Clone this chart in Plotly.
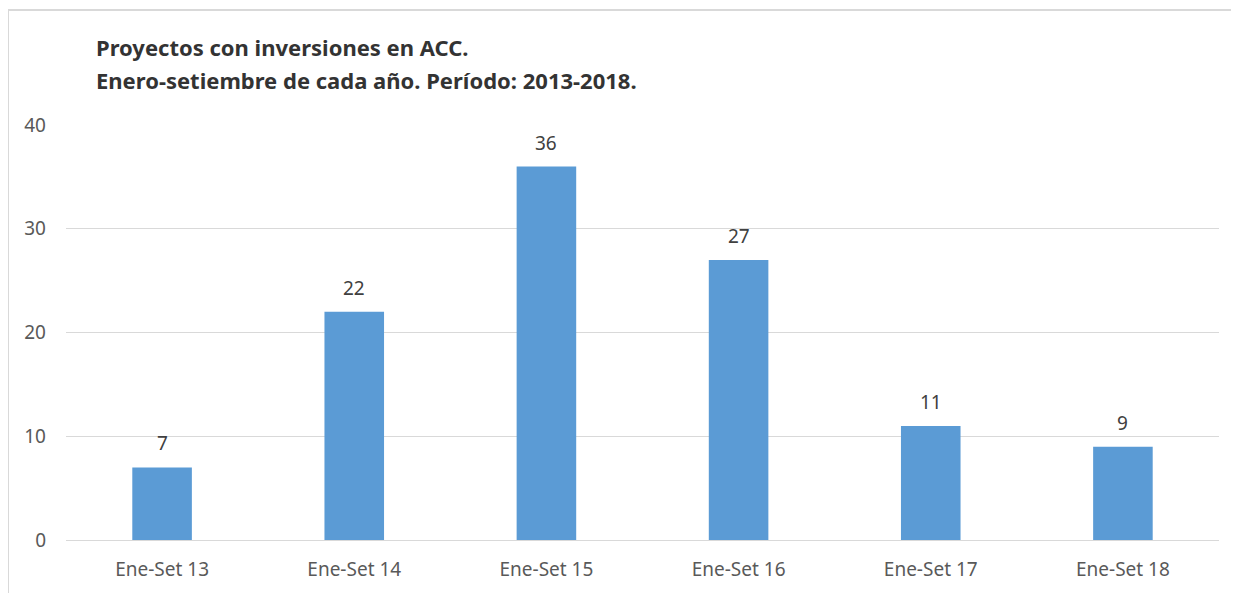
import plotly.graph_objects as go

# Datos
periodos = ['Ene-Set 13', 'Ene-Set 14', 'Ene-Set 15', 'Ene-Set 16', 'Ene-Set 17', 'Ene-Set 18']
proyectos = [7, 22, 36, 27, 11, 9]
y_ticks = [0, 10, 20, 30, 40]

titulo_1 = 'Proyectos con inversiones en ACC.'
titulo_2 = 'Enero-setiembre de cada año. Período: 2013-2018.'

fig = go.Figure()
fig.add_trace(go.Bar(x=periodos, y=proyectos, marker_color='#5B9BD5',
                     marker_line_width=0, hoverinfo='x+y'))

# etiquetas de valores encima de las barras
for p, v in zip(periodos, proyectos):
    fig.add_annotation(x=p, y=v, text=str(v), showarrow=False, yanchor='bottom',
                       yshift=9, font=dict(family='Noto Sans', size=19, color='#404040'))

# título en dos líneas
fig.add_annotation(xref='paper', yref='paper', x=(94 - 66) / 1153, y=(540 - 47) / 415,
                   xanchor='left', yanchor='middle', text='<b>' + titulo_1 + '</b>', showarrow=False,
                   font=dict(family='Noto Sans', size=22, color='#333333'))
fig.add_annotation(xref='paper', yref='paper', x=(94 - 66) / 1153, y=(540 - 80) / 415,
                   xanchor='left', yanchor='middle', text='<b>' + titulo_2 + '</b>', showarrow=False,
                   font=dict(family='Noto Sans', size=22, color='#333333'))

# borde del gráfico
borde = dict(color='#D9D9D9', width=2)
fig.add_shape(type='line', xref='paper', yref='paper', x0=-58 / 1153, x1=-58 / 1153,
              y0=(540 - 10) / 415, y1=-0.2, line=borde)
fig.add_shape(type='line', xref='paper', yref='paper', x0=-58 / 1153, x1=1.05,
              y0=(540 - 10) / 415, y1=(540 - 10) / 415, line=borde)

# la página deja 8px de margen, por eso el tamaño es algo menor
fig.update_layout(
    width=1231, height=585,
    margin=dict(l=58, r=20, t=117, b=53),
    paper_bgcolor='white', plot_bgcolor='white',
    bargap=0.69, showlegend=False,
    font=dict(family='Noto Sans', color='#595959'),
)
fig.update_xaxes(showgrid=False, showline=False, ticks='', tickfont=dict(size=19, color='#595959'),
                 ticklabelstandoff=16)
fig.update_yaxes(range=[0, 40], tickvals=y_ticks, showgrid=True, gridcolor='#D9D9D9', gridwidth=1,
                 zeroline=True, zerolinecolor='#D9D9D9', zerolinewidth=1, showline=False,
                 tickfont=dict(size=19, color='#595959'), ticklabelstandoff=19)

fig.write_html('out.html')
